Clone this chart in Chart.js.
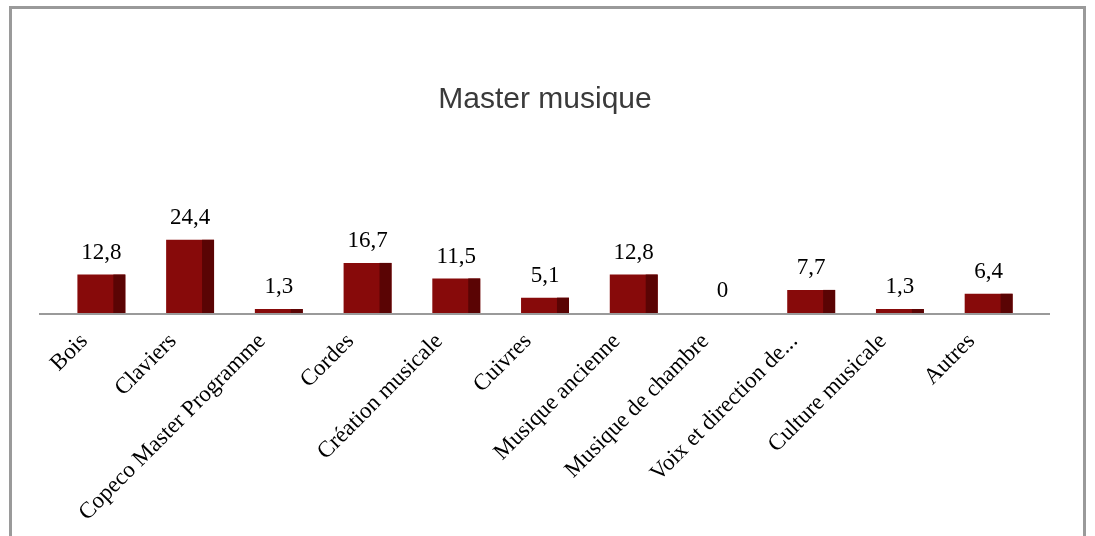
<!DOCTYPE html>
<html>
<head>
<meta charset="utf-8">
<script src="https://cdn.jsdelivr.net/npm/chart.js@4"></script>
<style>
  body { margin: 0; background: #fff; }
  #wrap { position: relative; width: 1095px; height: 536px; overflow: hidden; }
  #frame { position: absolute; left: 9px; top: 6px; right: 9px; height: 600px; border: 3px solid #9a9a9a; box-sizing: border-box; pointer-events: none; }
</style>
</head>
<body>
<div id="wrap">
  <canvas id="Canvas" width="1095" height="536"></canvas>
  <div id="frame"></div>
</div>
<script>
const categories = ["Bois", "Claviers", "Copeco Master Programme", "Cordes", "Création musicale", "Cuivres",
  "Musique ancienne", "Musique de chambre", "Voix et direction de...", "Culture musicale", "Autres"];
const values = [12.8, 24.4, 1.3, 16.7, 11.5, 5.1, 12.8, 0, 7.7, 1.3, 6.4];

const front = "#870a0a";
const side = "#5a0404";

// darker right face + value labels
const barExtras = {
  id: "barExtras",
  afterDatasetsDraw(chart) {
    const c = chart.ctx;
    const meta = chart.getDatasetMeta(0);
    c.save();
    meta.data.forEach(function(bar, i) {
      const w = bar.width;
      const sw = w * 0.25;
      if (bar.base - bar.y > 0) {
        c.fillStyle = side;
        c.fillRect(bar.x + w / 2 - sw, bar.y, sw, bar.base - bar.y);
      }
      c.fillStyle = "#000";
      c.font = "23px 'Liberation Serif'";
      c.textAlign = "center";
      c.textBaseline = "alphabetic";
      c.fillText(String(values[i]).replace(".", ","), bar.x, bar.y - 16);
    });
    c.restore();
  }
};

// floor line, a bit wider than the plot area
const floorLine = {
  id: "floorLine",
  afterDatasetsDraw(chart) {
    const a = chart.chartArea;
    const c = chart.ctx;
    c.save();
    c.strokeStyle = "#9a9a9a";
    c.lineWidth = 2;
    c.beginPath();
    c.moveTo(a.left - 18, a.bottom + 1);
    c.lineTo(a.right + 17, a.bottom + 1);
    c.stroke();
    c.restore();
  }
};

const ctx = document.getElementById("Canvas").getContext("2d");
const myChart = new Chart(ctx, {
  type: "bar",
  data: {
    labels: categories,
    datasets: [{
      data: values,
      backgroundColor: front,
      categoryPercentage: 1,
      barPercentage: 0.54
    }]
  },
  options: {
    responsive: false,
    animation: false,
    layout: { padding: { left: 57, right: 62, top: 0, bottom: 0 } },
    plugins: {
      legend: { display: false },
      tooltip: { enabled: false },
      title: {
        display: true,
        text: "Master musique",
        color: "#3a3a3a",
        font: { family: "'Liberation Sans'", size: 30, weight: "normal" },
        padding: { top: 82, bottom: 33 }
      }
    },
    scales: {
      y: { display: false, min: 0, max: 54 },
      x: {
        grid: { display: false, drawTicks: false },
        border: { display: false },
        ticks: {
          autoSkip: false,
          minRotation: 45,
          maxRotation: 45,
          labelOffset: -17,
          padding: 15,
          color: "#000",
          font: { family: "'Liberation Serif'", size: 23 }
        },
        afterFit: function(scale) { scale.height = 223; }
      }
    }
  },
  plugins: [barExtras, floorLine]
});
</script>
</body>
</html>
